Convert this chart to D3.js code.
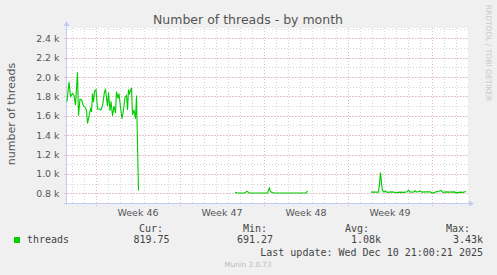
<!DOCTYPE html>
<html lang="en">
<head>
<meta charset="utf-8">
<title>Number of threads - by month</title>
<script src="https://d3js.org/d3.v7.min.js"></script>
<style>
    body { margin: 0; background: #f0f0f0; }
    svg { display: block; }
    text { font-family: "DejaVu Sans", sans-serif; fill: #555; }
    .mono { font-family: "DejaVu Sans Mono", monospace; font-size: 10px; fill: #444; }
</style>
</head>
<body>
<svg id="chart" width="497" height="275"></svg>
<script>

    // hours since window start, and thread counts
    var seg1Hours = [0, 4, 7, 11, 14, 17, 21, 23, 26, 29, 33, 36, 39, 41, 45, 47, 49, 51, 53, 55, 58, 61, 65, 68, 71, 75, 77, 81, 83, 86, 88, 91, 94, 97, 99, 102, 104, 106, 110, 113, 116, 119, 121, 123, 125, 129, 131, 134, 137, 139, 143];
    var seg1Values = [1745, 1950, 1800, 1830, 1810, 1710, 2050, 1600, 1770, 1765, 1700, 1690, 1660, 1520, 1620, 1670, 1640, 1830, 1740, 1850, 1870, 1670, 1670, 1660, 1700, 1850, 1870, 1700, 1840, 1650, 1750, 1600, 1700, 1630, 1850, 1780, 1830, 1730, 1570, 1660, 1790, 1810, 1660, 1870, 1830, 1890, 1610, 1660, 1570, 1810, 830];

    var seg2Hours = [336, 340, 356, 360, 364, 401, 403, 405, 407, 410, 414, 478, 481];
    var seg2Values = [810, 803, 803, 822, 803, 803, 835, 855, 815, 810, 803, 803, 825];

    var seg3Hours = [608, 623, 625, 627, 629, 631, 634, 637, 640, 650, 658, 666, 674, 680, 683, 686, 694, 696, 700, 706, 710, 718, 726, 730, 734, 738, 744, 748, 752, 758, 766, 774, 780, 786, 792, 798];
    var seg3Values = [812, 812, 900, 1013, 900, 830, 812, 825, 810, 815, 808, 812, 810, 815, 832, 812, 815, 826, 812, 825, 812, 815, 815, 805, 805, 815, 822, 830, 810, 815, 812, 815, 805, 812, 810, 818];

    var yTicks = [800, 1000, 1200, 1400, 1600, 1800, 2000, 2200, 2400];
    var legendHeads = ["Cur:", "Min:", "Avg:", "Max:"];
    var legendValues = ["819.75", "691.27", "1.08k", "3.43k"];
    var lastUpdate = "Last update: Wed Dec 10 21:00:21 2025";

    var start = new Date(Date.UTC(2025, 10, 7, 14));
    var end = new Date(start.getTime() + 800 * 3600e3);

    var pLeft = 67, pRight = 467, pTop = 28, pBottom = 203;

    var x = d3.scaleUtc().domain([start, end]).range([pLeft, pRight]);
    var y = d3.scaleLinear().domain([700, 2506]).range([pBottom, pTop]);

    var svg = d3.select("#chart");

    svg.append("rect")
        .attr("x", pLeft).attr("y", pTop)
        .attr("width", pRight - pLeft + 1).attr("height", pBottom - pTop)
        .attr("fill", "white");

    // minor grid
    var days = d3.utcDay.range(start, end);
    var minorY = d3.range(700, 2506, 100);
    var grid = svg.append("g").attr("shape-rendering", "crispEdges");
    var minorCol = "#d6d6d6", majorCol = "#eeb4b4";

    grid.selectAll(".vmin").data(days).enter().append("line")
        .attr("x1", d => Math.round(x(d)) + 0.5).attr("x2", d => Math.round(x(d)) + 0.5)
        .attr("y1", pTop).attr("y2", pBottom + 2)
        .attr("stroke", minorCol).attr("stroke-dasharray", "1,2");

    grid.selectAll(".hmin").data(minorY).enter().append("line")
        .attr("x1", pLeft - 2).attr("x2", pRight + 1)
        .attr("y1", d => Math.round(y(d)) + 0.5).attr("y2", d => Math.round(y(d)) + 0.5)
        .attr("stroke", minorCol).attr("stroke-dasharray", "1,2");

    // major grid
    var weeks = d3.utcMonday.range(start, end);
    grid.selectAll(".vmaj").data(weeks).enter().append("line")
        .attr("x1", d => Math.round(x(d)) + 0.5).attr("x2", d => Math.round(x(d)) + 0.5)
        .attr("y1", pTop).attr("y2", pBottom + 3)
        .attr("stroke", majorCol).attr("stroke-dasharray", "1,2");

    grid.selectAll(".hmaj").data(yTicks).enter().append("line")
        .attr("x1", pLeft - 3).attr("x2", pRight + 1)
        .attr("y1", d => Math.round(y(d)) + 0.5).attr("y2", d => Math.round(y(d)) + 0.5)
        .attr("stroke", majorCol).attr("stroke-dasharray", "1,2");

    // axes
    var axisCol = "#c4ccf4";
    svg.append("line").attr("x1", pLeft - 0.5).attr("x2", pLeft - 0.5)
        .attr("y1", pBottom + 2).attr("y2", pTop - 4)
        .attr("stroke", axisCol);
    svg.append("line").attr("x1", pLeft - 3).attr("x2", pRight + 3)
        .attr("y1", pBottom + 0.5).attr("y2", pBottom + 0.5)
        .attr("stroke", axisCol);
    svg.append("path").attr("d", `M${pLeft - 3.5},${pTop - 2} L${pLeft - 0.5},${pTop - 7} L${pLeft + 2.5},${pTop - 2} Z`)
        .attr("fill", axisCol);
    svg.append("path").attr("d", `M${pRight + 2},${pBottom - 2.5} L${pRight + 7},${pBottom + 0.5} L${pRight + 2},${pBottom + 3.5} Z`)
        .attr("fill", axisCol);

    // y tick labels
    svg.selectAll(".ylab").data(yTicks).enter().append("text")
        .attr("x", 59.5).attr("y", d => y(d) + 3.5)
        .attr("text-anchor", "end")
        .style("font-size", "9.4px")
        .text(d => d3.format(".1f")(d / 1000) + " k");

    // week labels, centred on the middle of each week
    var weekLabels = weeks.filter(d => x(d3.utcHour.offset(d, 84)) < pRight);
    svg.selectAll(".xlab").data(weekLabels).enter().append("text")
        .attr("x", d => x(d3.utcHour.offset(d, 84)))
        .attr("y", 216)
        .attr("text-anchor", "middle")
        .style("font-size", "9.5px")
        .text(d => "Week " + d3.utcFormat("%V")(d));

    // series
    var line = d3.line()
        .x(d => x(d3.utcHour.offset(start, d[0])))
        .y(d => y(d[1]));

    [[seg1Hours, seg1Values], [seg2Hours, seg2Values], [seg3Hours, seg3Values]].forEach(function (s) {
        svg.append("path")
            .datum(d3.zip(s[0], s[1]))
            .attr("d", line)
            .attr("fill", "none")
            .attr("stroke", "#00cc00")
            .attr("stroke-width", 1.1);
    });

    // titles
    svg.append("text").attr("x", 248).attr("y", 24)
        .attr("text-anchor", "middle").style("font-size", "12.5px")
        .text("Number of threads - by month");

    svg.append("text")
        .attr("transform", "translate(15,114) rotate(-90)")
        .attr("text-anchor", "middle").style("font-size", "11px")
        .text("number of threads");

    svg.append("text")
        .attr("transform", "translate(485.5,53) rotate(90)")
        .attr("text-anchor", "middle").style("font-size", "7.5px").style("fill", "#c8c8c8")
        .text("RRDTOOL / TOBI OETIKER");

    // legend
    svg.append("rect").attr("x", 14).attr("y", 237).attr("width", 6).attr("height", 6)
        .attr("fill", "#00cc00");
    svg.append("text").attr("class", "mono").attr("x", 27).attr("y", 243).text("threads");

    var headX = [163, 267, 369, 470];
    var valX = [169.5, 273, 381, 483];
    svg.selectAll(".lh").data(legendHeads).enter().append("text")
        .attr("class", "mono").attr("x", (d, i) => headX[i]).attr("y", 231.5)
        .attr("text-anchor", "end").text(d => d);
    svg.selectAll(".lv").data(legendValues).enter().append("text")
        .attr("class", "mono").attr("x", (d, i) => valX[i]).attr("y", 243)
        .attr("text-anchor", "end").text(d => d);

    svg.append("text").attr("class", "mono").attr("x", 483).attr("y", 255.5)
        .attr("text-anchor", "end").text(lastUpdate);

    svg.append("text").attr("x", 248).attr("y", 267)
        .attr("text-anchor", "middle").style("font-size", "7.2px").style("fill", "#bbb")
        .text("Munin 2.0.73");

</script>
</body>
</html>
